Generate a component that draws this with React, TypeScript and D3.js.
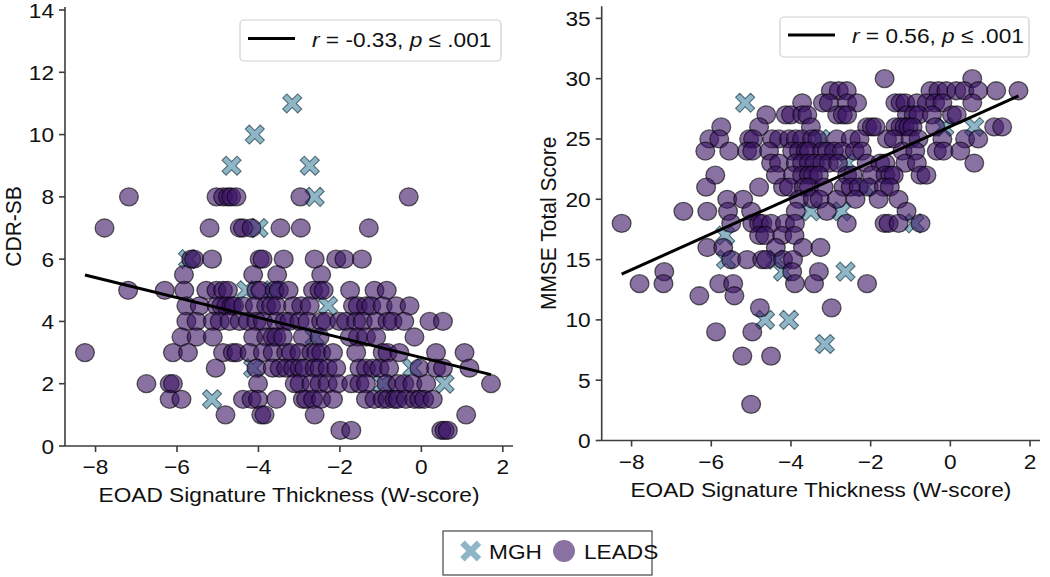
import React from "react";
import * as d3 from "d3";

// ---------- data (W-score on x, clinical score on y) ----------
const xTicks = [-8, -6, -4, -2, 0, 2];
const cdrTicks = [0, 2, 4, 6, 8, 10, 12, 14];
const mmseTicks = [0, 5, 10, 15, 20, 25, 30, 35];

// each row: [score, W-scores of the points at that score]
const cdrLeads: [number, number[]][] = [
  [8, [-7.18, -5.03, -4.87, -4.75, -4.67, -4.54, -2.97, -0.31]],
  [7, [-7.78, -5.2, -4.46, -4.38, -4.17, -3.46, -2.96, -1.29]],
  [6, [-5.65, -5.58, -5.14, -3.97, -3.9, -3.38, -2.62, -2.09, -1.89, -1.46]],
  [5.5, [-5.83, -4.13, -3.54, -2.46]],
  [5, [-7.2, -6.3, -5.82, -5.28, -5.03, -4.87, -4.75, -4.05, -3.95, -3.6, -3.5, -3.26, -2.66, -2.5, -2.4, -1.75, -1.15, -0.85]],
  [4.5, [-5.77, -5.44, -5.03, -4.91, -4.79, -4.66, -4.6, -4.38, -4.09, -3.81, -3.69, -3.56, -3.15, -2.95, -2.74, -1.68, -1.56, -1.36, -1.23, -0.95, -0.62, -0.29]],
  [4, [-5.77, -5.52, -5.12, -4.95, -4.71, -4.46, -4.26, -4.05, -3.89, -3.56, -3.36, -3.24, -2.99, -2.79, -2.46, -2.34, -2.01, -1.85, -1.6, -1.44, -1.11, -0.83, -0.71, -0.42, 0.2, 0.53]],
  [3.5, [-5.89, -5.52, -5.12, -4.13, -3.81, -3.65, -3.56, -3.4, -2.91, -2.5, -1.76, -1.56, -1.36, -1.11, -0.17]],
  [3, [-8.26, -6.1, -5.73, -4.87, -4.63, -4.54, -4.22, -3.89, -3.65, -3.32, -3.2, -2.99, -2.7, -2.58, -2.46, -2.17, -1.6, -0.95, -0.83, -0.54, 0.36, 1.06]],
  [2.5, [-5.05, -4.05, -3.65, -3.48, -3.32, -3.15, -2.99, -2.87, -2.62, -2.5, -2.3, -2.09, -1.52, -1.36, -1.19, -1.03, -0.79, -0.05, 0.36, 0.53, 1.18]],
  [2, [-6.75, -6.18, -6.1, -4.01, -3.11, -2.99, -2.7, -2.5, -2.3, -2.05, -1.72, -1.52, -1.36, -0.86, -0.58, -0.42, -0.22, 0.12, 1.71]],
  [1.5, [-6.18, -5.89, -4.38, -4.17, -4.01, -3.56, -2.91, -2.83, -2.66, -2.46, -2.17, -1.36, -1.15, -0.95, -0.83, -0.66, -0.58, -0.38, -0.17, -0.05, 0.07, 0.28]],
  [1, [-4.81, -3.93, -3.85, -2.62, 1.1]],
  [0.5, [-1.99, -1.72, 0.49, 0.57, 0.65]],
];

const cdrMgh: [number, number[]][] = [
  [11, [-3.17]],
  [10, [-4.09]],
  [9, [-4.66, -2.74]],
  [8, [-2.62]],
  [7, [-4.0]],
  [6, [-5.73]],
  [5, [-4.3, -3.65]],
  [4.5, [-2.29]],
  [3.5, [-2.62]],
  [2.5, [-4.13, -0.22]],
  [2, [-0.95, 0.57]],
  [1.5, [-5.14]],
];

const mmseLeads: [number, number[]][] = [
  [30, [-1.65, 0.55]],
  [29, [-3.0, -2.8, -2.6, -0.5, -0.3, -0.1, 0.15, 0.35, 0.7, 1.15, 1.71]],
  [28, [-3.72, -3.2, -3.05, -2.59, -2.34, -1.38, -1.25, -1.13, -0.84, -0.59, -0.38, -0.2, 0.55]],
  [27, [-4.62, -4.13, -4.0, -3.72, -3.59, -2.84, -2.7, -2.59, -1.09, -0.92, -0.8, -0.46, 0.04, 0.16]],
  [26, [-5.75, -4.8, -3.5, -2.09, -1.97, -1.88, -1.38, -1.25, -1.15, -1.05, -0.95, -0.38, 1.1, 1.3]],
  [25, [-6.05, -5.8, -5.05, -4.95, -4.47, -4.3, -4.05, -3.88, -3.72, -3.47, -3.34, -2.85, -2.5, -2.28, -1.59, -1.42, -1.0, -0.8, -0.2, 0.37, 0.7]],
  [24, [-6.15, -5.55, -5.1, -4.97, -4.55, -3.97, -3.8, -3.63, -3.55, -3.22, -3.09, -2.92, -2.72, -2.4, -2.22, -1.2, -0.88, -0.34, -0.17, 0.25]],
  [23, [-4.5, -4.3, -3.88, -3.72, -3.55, -3.4, -3.22, -3.05, -2.82, -2.1, -1.76, -1.63, -1.13, -0.84, 0.6]],
  [22, [-5.9, -4.38, -3.95, -3.72, -3.55, -3.45, -3.3, -2.59, -2.45, -1.97, -1.63, -1.5, -1.42, -0.75, -0.6]],
  [21, [-6.13, -4.8, -4.2, -4.05, -3.68, -3.55, -3.18, -2.68, -2.5, -2.3, -2.05, -1.67, -1.52]],
  [20, [-5.6, -5.2, -3.8, -3.45, -3.28, -2.85, -2.38, -1.8, -1.3]],
  [19, [-6.7, -6.1, -5.58, -5.0, -3.88, -3.1, -1.1]],
  [18, [-8.25, -5.5, -4.97, -4.8, -4.72, -4.5, -4.15, -3.9, -2.6, -1.65, -1.55, -1.3, -0.75]],
  [17, [-4.8, -4.65, -4.22, -3.91]],
  [16, [-6.1, -5.7, -4.38, -3.7, -3.26]],
  [15, [-5.5, -5.1, -4.72, -4.62, -4.2, -3.95]],
  [14, [-7.18, -3.97, -3.3]],
  [13, [-7.8, -7.2, -5.8, -5.45, -3.9, -3.42, -2.09]],
  [12, [-6.3, -5.42]],
  [11, [-4.78, -2.98]],
  [9, [-5.88, -4.97]],
  [7, [-5.22, -4.5]],
  [3, [-5.0]],
];

const mmseMgh: [number, number[]][] = [
  [28, [-5.15]],
  [26, [-0.15, 0.6]],
  [25, [-3.26]],
  [23, [-2.6]],
  [21, [-2.15]],
  [19, [-3.5, -2.73]],
  [18, [-0.9]],
  [17, [-5.65]],
  [15, [-5.63, -4.38]],
  [14, [-4.2, -2.63]],
  [10, [-4.65, -4.05]],
  [8, [-3.15]],
];

// fitted regression lines (score = intercept + slope * W)
const cdrFit = { slope: -0.321, intercept: 2.84, r: "-0.33", p: ".001" };
const mmseFit = { slope: 1.483, intercept: 26.03, r: "0.56", p: ".001" };

const groupNames = ["MGH", "LEADS"];

// ---------- styling ----------
const FONT = "'Liberation Sans', Arial, Helvetica, sans-serif";
const SX = 1.08;
const FS = 21;
const SPINE = "#3d3d3d";
const LEADS_FILL = "#3b1464";
const MGH_FILL = "#8fb6c6";
const MGH_EDGE = "#34505c";

type Pt = { x: number; y: number };
const flat = (rows: [number, number[]][]): Pt[] =>
  rows.flatMap(([y, xs]) => xs.map((x) => ({ x, y })));

function xMarkerPath(half: number, ratio = 0.27) {
  const s = (half * Math.SQRT2) / (1 + ratio);
  const a = ratio * s;
  const pts = [
    [a, s], [a, a], [s, a], [s, -a], [a, -a], [a, -s],
    [-a, -s], [-a, -a], [-s, -a], [-s, a], [-a, a], [-a, s],
  ];
  const c = Math.SQRT1_2;
  return "M" + pts.map(([x, y]) => `${((x - y) * c).toFixed(2)},${((x + y) * c).toFixed(2)}`).join("L") + "Z";
}

function T(props: {
  x: number; y: number; anchor?: string; size?: number; rotate?: boolean;
  children: React.ReactNode; fill?: string;
}) {
  const { x, y, anchor = "start", size = FS, rotate = false, children, fill = "#111" } = props;
  return (
    <text
      transform={`translate(${x},${y}) scale(${SX},1)${rotate ? " rotate(-90)" : ""}`}
      textAnchor={anchor}
      fontSize={size}
      fontFamily={FONT}
      fill={fill}
    >
      {children}
    </text>
  );
}

const fmt = (v: number) => (v < 0 ? "\u2212" + Math.abs(v) : String(v));

type PanelProps = {
  xRange: [number, number];
  yDomain: [number, number];
  yRange: [number, number];
  yTicks: number[];
  yLabel: string;
  yLabelX: number;
  leads: Pt[];
  mgh: Pt[];
  fit: { slope: number; intercept: number; r: string; p: string };
  legend: { x: number; y: number; w: number; h: number };
};

function Panel(p: PanelProps) {
  const x = d3.scaleLinear().domain([-8.75, 2.25]).range(p.xRange);
  const y = d3.scaleLinear().domain(p.yDomain).range(p.yRange);
  const y0 = p.yRange[0];
  const x0 = p.xRange[0];
  const xExt = d3.extent(p.leads.concat(p.mgh), (d) => d.x) as [number, number];
  const line = d3.line<number>()
    .x((v) => x(v))
    .y((v) => y(p.fit.intercept + p.fit.slope * v));
  const xm = xMarkerPath(9.5);
  const lg = p.legend;
  return (
    <g>
      {/* MGH markers */}
      {p.mgh.map((d, i) => (
        <path key={"m" + i} d={xm} transform={`translate(${x(d.x)},${y(d.y)})`}
          fill={MGH_FILL} stroke={MGH_EDGE} strokeWidth={1.1} strokeOpacity={0.8} />
      ))}
      {/* LEADS markers */}
      {p.leads.map((d, i) => (
        <ellipse key={"l" + i} cx={x(d.x)} cy={y(d.y)} rx={9.4} ry={9.0}
          fill={LEADS_FILL} fillOpacity={0.6} stroke="#000" strokeOpacity={0.6} strokeWidth={1.3} />
      ))}
      {/* regression line */}
      <path d={line(xExt) || ""} fill="none" stroke="#000" strokeWidth={3} />
      {/* spines */}
      <line x1={x0} x2={x0} y1={p.yRange[1]} y2={y0} stroke={SPINE} strokeWidth={1.6} />
      <line x1={x0} x2={p.xRange[1]} y1={y0} y2={y0} stroke={SPINE} strokeWidth={1.6} />
      {/* x ticks */}
      {xTicks.map((t) => (
        <g key={"xt" + t}>
          <line x1={x(t)} x2={x(t)} y1={y0} y2={y0 + 6} stroke={SPINE} strokeWidth={1.6} />
          <T x={x(t)} y={y0 + 28} anchor="middle">{fmt(t)}</T>
        </g>
      ))}
      {/* y ticks */}
      {p.yTicks.map((t) => (
        <g key={"yt" + t}>
          <line x1={x0 - 6} x2={x0} y1={y(t)} y2={y(t)} stroke={SPINE} strokeWidth={1.6} />
          <T x={x0 - 11} y={y(t) + 7.5} anchor="end">{fmt(t)}</T>
        </g>
      ))}
      {/* axis labels */}
      <T x={(p.xRange[0] + p.xRange[1]) / 2} y={y0 + 56} anchor="middle">
        EOAD Signature Thickness (W-score)
      </T>
      <T x={p.yLabelX} y={(p.yRange[0] + p.yRange[1]) / 2} anchor="middle" rotate>
        {p.yLabel}
      </T>
      {/* legend */}
      <rect x={lg.x} y={lg.y} width={lg.w} height={lg.h} rx={4} fill="#fff" fillOpacity={0.85}
        stroke="#d0d0d0" strokeWidth={1.2} />
      <line x1={lg.x + 8} x2={lg.x + 55} y1={lg.y + lg.h / 2 - 2} y2={lg.y + lg.h / 2 - 2}
        stroke="#000" strokeWidth={3} />
      <T x={lg.x + 72} y={lg.y + lg.h / 2 + 6}>
        <tspan fontStyle="italic">r</tspan>
        {` = ${p.fit.r}, `}
        <tspan fontStyle="italic">p</tspan>
        {` \u2264 ${p.fit.p}`}
      </T>
    </g>
  );
}

export default function App() {
  const cdrL = flat(cdrLeads);
  const cdrM = flat(cdrMgh);
  const mmL = flat(mmseLeads);
  const mmM = flat(mmseMgh);
  const legendX = xMarkerPath(10.5);
  return (
    <svg width={1050} height={577} viewBox="0 0 1050 577"
      style={{ position: "absolute", left: 0, top: 0, background: "#fff" }}>
      <rect width={1050} height={577} fill="#fff" />
      <Panel
        xRange={[65, 513]}
        yDomain={[0, 14.1]}
        yRange={[446, 6.9]}
        yTicks={cdrTicks}
        yLabel="CDR-SB"
        yLabelX={20.5}
        leads={cdrL}
        mgh={cdrM}
        fit={cdrFit}
        legend={{ x: 240, y: 20, w: 261, h: 41 }}
      />
      <Panel
        xRange={[601.7, 1040]}
        yDomain={[0, 36]}
        yRange={[440.5, 6.3]}
        yTicks={mmseTicks}
        yLabel="MMSE Total Score"
        yLabelX={556}
        leads={mmL}
        mgh={mmM}
        fit={mmseFit}
        legend={{ x: 780, y: 17, w: 249, h: 40 }}
      />
      {/* group legend */}
      <rect x={443} y={531} width={209} height={44} fill="#fff" stroke="#444" strokeWidth={1.2} />
      <path d={legendX} transform="translate(470.7,551)" fill={MGH_FILL} />
      <T x={489} y={558.5}>{groupNames[0]}</T>
      <ellipse cx={564} cy={551} rx={11} ry={11} fill={LEADS_FILL} fillOpacity={0.6} />
      <T x={584} y={558.5}>{groupNames[1]}</T>
    </svg>
  );
}
